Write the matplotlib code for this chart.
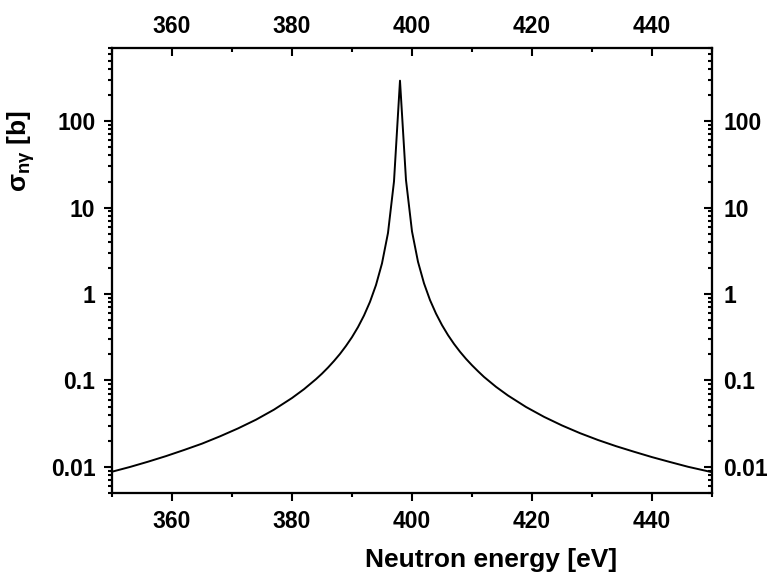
import matplotlib
matplotlib.use("Agg")
import matplotlib.pyplot as plt
from matplotlib.ticker import MultipleLocator, LogLocator, FuncFormatter, NullFormatter

# === Data (capture cross section around the 398 eV resonance) ===
energy = [350, 353, 356, 359, 362, 365, 368, 371, 374, 377, 380, 382, 384, 385, 386,
          387, 388, 389, 390, 391, 392, 393, 394, 395, 396, 397, 398, 399, 400, 401,
          402, 403, 404, 405, 406, 407, 408, 409, 410, 411, 412, 414, 416, 419, 422,
          425, 428, 431, 434, 437, 440, 443, 446, 450]
sigma = [0.00881, 0.0100, 0.0115, 0.01335, 0.0157, 0.0186, 0.0226, 0.0279, 0.0352,
         0.0460, 0.0627, 0.0793, 0.1036, 0.120, 0.141, 0.168, 0.203, 0.251, 0.317,
         0.414, 0.564, 0.812, 1.27, 2.26, 5.08, 20.0, 293.0, 20.8, 5.3, 2.36, 1.33,
         0.852, 0.594, 0.437, 0.335, 0.265, 0.215, 0.178, 0.150, 0.128, 0.110, 0.0845,
         0.0670, 0.0494, 0.0380, 0.0302, 0.0246, 0.0205, 0.0174, 0.0150, 0.0130,
         0.01141, 0.01005, 0.0087]

xlim = (350, 450)
ylim = (0.005, 700)

plt.rcParams["font.family"] = "Liberation Sans"
plt.rcParams["font.weight"] = "bold"
plt.rcParams["mathtext.fontset"] = "custom"
plt.rcParams["mathtext.rm"] = "Liberation Sans:bold"
plt.rcParams["mathtext.it"] = "Liberation Sans:bold"
plt.rcParams["mathtext.bf"] = "Liberation Sans:bold"

fig = plt.figure(figsize=(7.69, 5.76), dpi=100)
ax = fig.add_axes([0.1456, 0.1441, 0.7803, 0.7726])

ax.plot(energy, sigma, color="black", lw=1.4)
ax.set_yscale("log")
ax.set_xlim(*xlim)
ax.set_ylim(*ylim)

fmt = FuncFormatter(lambda v, p: f"{v:g}")
tick_size = 16.5


def style_x(a):
    a.set_xlim(*xlim)
    a.xaxis.set_major_locator(MultipleLocator(20))
    a.xaxis.set_minor_locator(MultipleLocator(10))


def style_y(a):
    a.set_yscale("log")
    a.set_ylim(*ylim)
    a.yaxis.set_major_locator(LogLocator(base=10, numticks=20))
    a.yaxis.set_minor_locator(LogLocator(base=10, subs=range(2, 10), numticks=20))
    a.yaxis.set_major_formatter(fmt)
    a.yaxis.set_minor_formatter(NullFormatter())


style_x(ax)
style_y(ax)
ax.tick_params(which="both", direction="out", labelsize=tick_size, width=1.5, pad=6)
ax.tick_params(which="major", length=6)
ax.tick_params(which="minor", length=3)

# top axis (ticks pointing into the plot)
axt = ax.twiny()
style_x(axt)
axt.tick_params(which="both", direction="in", labelsize=tick_size, width=1.5, pad=7)
axt.tick_params(which="major", length=6)
axt.tick_params(which="minor", length=3)

# right axis (ticks pointing into the plot)
axr = ax.twinx()
style_y(axr)
axr.tick_params(which="both", direction="in", labelsize=tick_size, width=1.5, pad=8)
axr.tick_params(which="major", length=6)
axr.tick_params(which="minor", length=3)

for a in (ax, axt, axr):
    for s in a.spines.values():
        s.set_linewidth(1.5)

fig.text(0.638, 0.016, "Neutron energy [eV]", ha="center", va="baseline",
         fontsize=19, fontweight="bold")
fig.text(0.027, 0.737, r"$\sigma_{n\gamma}$ [b]", rotation=90, ha="center",
         va="center", fontsize=19, fontweight="bold")

fig.savefig("out.png", dpi=100)
